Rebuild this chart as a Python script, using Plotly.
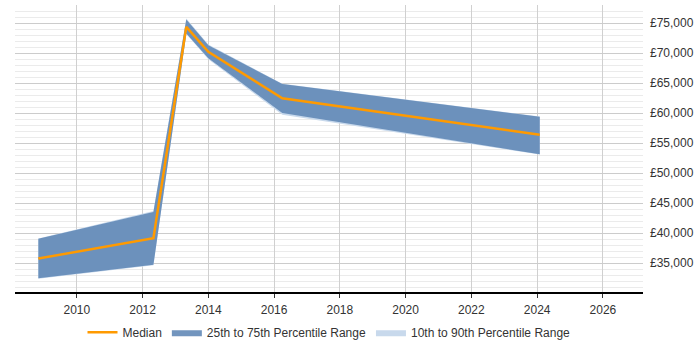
import plotly.graph_objects as go

years = [2008.83, 2012.33, 2013.33, 2014.0, 2016.25, 2024.08]
median = [35750, 39150, 74400, 70250, 62500, 56400]
p25 = [32450, 34700, 73300, 69150, 60050, 53150]
p75 = [39050, 43500, 75650, 71350, 64850, 59400]
p10 = [32400, 34650, 73200, 69000, 59750, 53100]
p90 = [39100, 43700, 75800, 71450, 64900, 59450]

y_ticks = [35000, 40000, 45000, 50000, 55000, 60000, 65000, 70000, 75000]
y_labels = ["£35,000", "£40,000", "£45,000", "£50,000", "£55,000", "£60,000", "£65,000", "£70,000", "£75,000"]
x_ticks = [2010, 2012, 2014, 2016, 2018, 2020, 2022, 2024, 2026]

fig = go.Figure()

fig.add_trace(go.Scatter(
    x=years + years[::-1], y=p90 + p10[::-1],
    fill="toself", fillcolor="#c8d9ec", mode="lines", line=dict(width=0, color="#c8d9ec"),
    name="10th to 90th Percentile Range", hoverinfo="skip", legendrank=3))
fig.add_trace(go.Scatter(
    x=years + years[::-1], y=p75 + p25[::-1],
    fill="toself", fillcolor="rgba(94,134,181,0.88)", mode="lines", line=dict(width=0, color="#7c9dc2"),
    name="25th to 75th Percentile Range", hoverinfo="skip", legendrank=2))
fig.add_trace(go.Scatter(
    x=years, y=median, mode="lines", line=dict(color="#ff9a00", width=2.5),
    name="Median", legendrank=1))

fig.update_layout(
    width=700, height=350,
    margin=dict(l=15, r=57, t=5, b=58, autoexpand=False),
    paper_bgcolor="white", plot_bgcolor="white",
    font=dict(family="Liberation Sans, Arial, sans-serif", size=12, color="#333"),
    showlegend=True,
    legend=dict(orientation="h", x=0.5, xanchor="center", y=-0.09, yanchor="top",
                font=dict(size=12, color="#333"), traceorder="normal", itemwidth=30,
                tracegroupgap=0),
    xaxis=dict(range=[2008.12, 2027.22], tickmode="array", tickvals=x_ticks,
               ticktext=[str(t) for t in x_ticks],
               showgrid=True, gridcolor="#d0d0d0", gridwidth=1,
               showline=True, linecolor="black", linewidth=1.5,
               ticks="outside", ticklen=4, tickcolor="#333", zeroline=False,
               ticklabelstandoff=2),
    yaxis=dict(range=[30170, 78050], side="right", tickmode="array",
               tickvals=y_ticks, ticktext=y_labels,
               showgrid=True, gridcolor="#cccccc", gridwidth=1,
               minor=dict(dtick=1000, showgrid=True, gridcolor="#ebebeb", gridwidth=1),
               showline=False, zeroline=False, ticks="", ticklabelstandoff=6),
)

fig.write_html("out.html")
